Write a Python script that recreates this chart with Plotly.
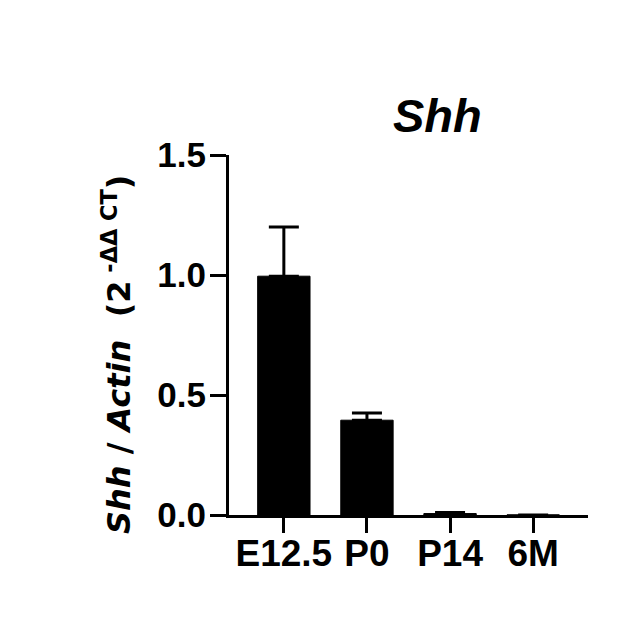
import plotly.graph_objects as go

# Shh expression by stage (relative to E12.5)
stages = ["E12.5", "P0", "P14", "6M"]
expr = [0.995, 0.395, 0.006, 0.0005]
expr_err = [0.205, 0.030, 0.004, 0.0]
y_ticks = [0.0, 0.5, 1.0, 1.5]
y_tick_text = ["0.0", "0.5", "1.0", "1.5"]

# page body adds an 8px margin, so the figure sits 8px right/down
W, H = 626, 617
L, R, T, B = 221, 46, 147, 110
FONT = "Liberation Sans, Arial, Helvetica, sans-serif"
PW, PH = W - L - R, H - T - B

fig = go.Figure()
fig.add_trace(go.Bar(
    x=list(range(len(stages))), y=expr, width=0.63,
    marker=dict(color="black", line=dict(color="black", width=1)),
    error_y=dict(type="data", array=expr_err, arrayminus=[0] * len(stages),
                 symmetric=False, color="black", thickness=3, width=15),
    showlegend=False,
))

fig.update_layout(
    width=W, height=H,
    margin=dict(l=L, r=R, t=T, b=B, autoexpand=False),
    paper_bgcolor="white", plot_bgcolor="white",
    font=dict(family=FONT, color="black"),
    xaxis=dict(range=[-0.66, 3.66], tickmode="array", tickvals=list(range(len(stages))),
               ticktext=stages, showline=True, linewidth=3, linecolor="black",
               ticks="outside", ticklen=15, tickwidth=3, tickcolor="black",
               showgrid=False, zeroline=False, ticklabelstandoff=-11,
               tickfont=dict(size=37, family=FONT, weight="bold")),
    yaxis=dict(range=[0, 1.5], tickmode="array", tickvals=y_ticks, ticktext=y_tick_text,
               showline=True, linewidth=3, linecolor="black",
               ticks="outside", ticklen=16, tickwidth=3, tickcolor="black",
               showgrid=False, zeroline=False, ticklabelstandoff=-3,
               tickfont=dict(size=35, family=FONT, weight="bold")),
    annotations=[
        dict(text="<b><i>Shh</i></b>", xref="paper", yref="paper",
             x=(429 - L) / PW, y=(H - B - 108) / PH,
             xanchor="center", yanchor="middle", showarrow=False,
             font=dict(size=47, family=FONT)),
        dict(text="<b><i>Shh</i> / <i>Actin</i>  (2<sup> -ΔΔ CT</sup>)</b>",
             xref="paper", yref="paper",
             x=(109 - L) / PW, y=(H - B - 347) / PH,
             xanchor="center", yanchor="middle", textangle=-90, showarrow=False,
             font=dict(size=32, family="DejaVu Sans")),
    ],
)

fig.write_html("out.html")
